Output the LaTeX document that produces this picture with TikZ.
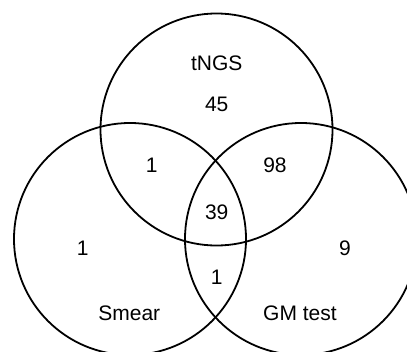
\documentclass[tikz,border=0pt]{standalone}
\usepackage{fontspec}
\setmainfont{Liberation Sans}
\begin{document}
\begin{tikzpicture}[x=1pt,y=-1pt,
  setcircle/.style={draw=black,line width=1.8pt},
  lbl/.style={font=\fontsize{21}{24}\selectfont,inner sep=0pt}]
\useasboundingbox (0,0) rectangle (407,351);
\clip (0,0) rectangle (407,351);
\fill[white] (0,0) rectangle (407,351);
\coordinate (ct) at (216.5,129.5);
\coordinate (cl) at (130,239);
\coordinate (cr) at (301,239);
\draw[setcircle] (ct) circle[radius=116];
\draw[setcircle] (cl) circle[radius=116];
\draw[setcircle] (cr) circle[radius=116];
\node[lbl] (tngs) at (216.7,63) {tNGS};
\node[lbl] (n45) at (216.7,104) {45};
\node[lbl] (n1a) at (151.7,165) {1};
\node[lbl] (n98) at (275,165) {98};
\node[lbl] (n39) at (216.7,212) {39};
\node[lbl] (n1b) at (82.7,248) {1};
\node[lbl] (n9) at (345,248) {9};
\node[lbl] (n1c) at (216.7,277) {1};
\node[lbl] (smear) at (129.3,313) {Smear};
\node[lbl] (gm) at (300,313) {GM test};
\end{tikzpicture}
\end{document}
